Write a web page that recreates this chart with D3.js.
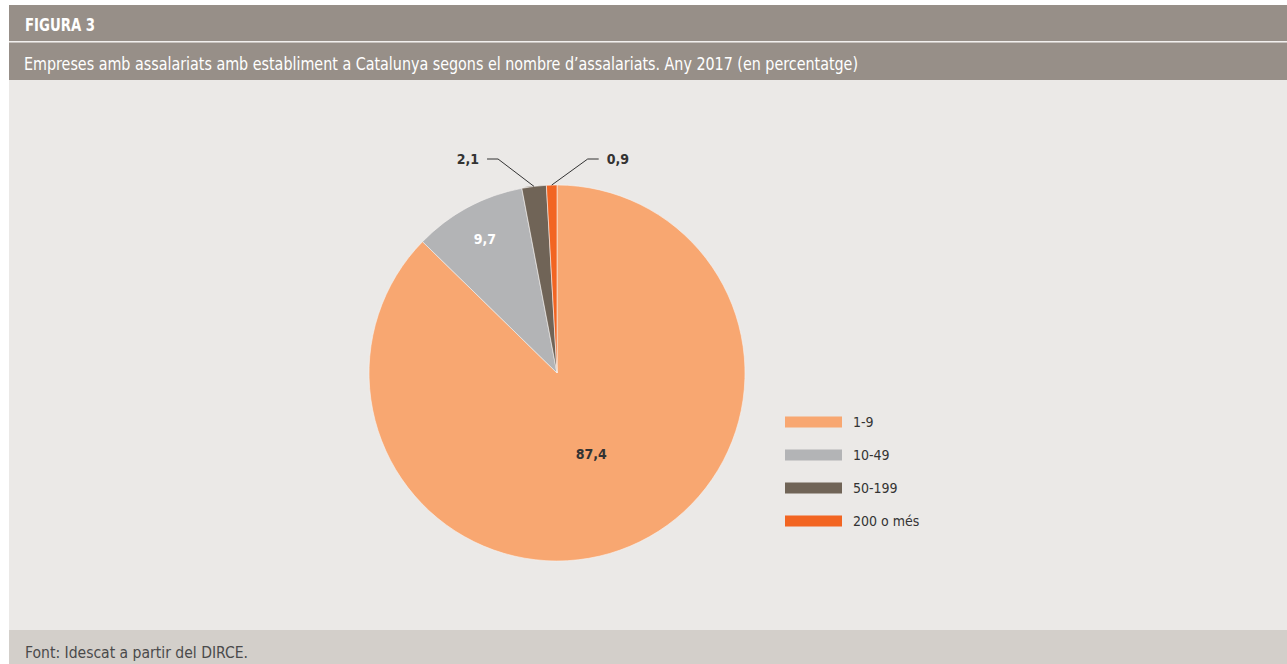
<!DOCTYPE html>
<html>
<head>
<meta charset="utf-8">
<script src="https://cdn.jsdelivr.net/npm/d3@7/dist/d3.min.js"></script>
<style>
  html, body { margin: 0; padding: 0; background: #ffffff; }
  svg { display: block; }
  text { font-family: "Liberation Sans Narrow", "DejaVu Sans Condensed", "Open Sans", sans-serif; }
</style>
</head>
<body>
<svg id="chart" width="1287" height="664"></svg>
<script>
// Business size bands (number of employees) and their share, Catalonia 2017
const categories = ["1-9", "10-49", "50-199", "200 o més"];
const shares = [87.4, 9.7, 2.1, 0.9];
const valueLabels = ["87,4", "9,7", "2,1", "0,9"];
const colors = ["#f8a771", "#b3b4b6", "#706457", "#f26522"];

const titleText = "FIGURA 3";
const subtitleText = "Empreses amb assalariats amb establiment a Catalunya segons el nombre d’assalariats. Any 2017 (en percentatge)";
const sourceText = "Font: Idescat a partir del DIRCE.";

const W = 1287, H = 664;
const svg = d3.select("#chart");

// Frame: header bands, plot body and source footer
const left = 9;
svg.append("rect").attr("x", left).attr("y", 5).attr("width", W - left).attr("height", 36).attr("fill", "#978f88");
svg.append("rect").attr("x", left).attr("y", 41).attr("width", W - left).attr("height", 1.5).attr("fill", "#f2f0ee");
svg.append("rect").attr("x", left).attr("y", 42.5).attr("width", W - left).attr("height", 37.5).attr("fill", "#978f88");
svg.append("rect").attr("x", left).attr("y", 80).attr("width", W - left).attr("height", 550).attr("fill", "#ebe9e7");
svg.append("rect").attr("x", left).attr("y", 630).attr("width", W - left).attr("height", 34).attr("fill", "#d3cfca");

svg.append("text").attr("x", 25).attr("y", 31)
  .attr("font-size", 18).attr("font-weight", "bold").attr("fill", "#ffffff")
  .attr("textLength", 70).attr("lengthAdjust", "spacingAndGlyphs")
  .text(titleText);
svg.append("text").attr("x", 24).attr("y", 70)
  .attr("font-size", 18).attr("fill", "#ffffff")
  .attr("textLength", 834).attr("lengthAdjust", "spacingAndGlyphs")
  .text(subtitleText);
svg.append("text").attr("x", 25).attr("y", 658)
  .attr("font-size", 16).attr("fill", "#4a4a4a")
  .attr("textLength", 223).attr("lengthAdjust", "spacingAndGlyphs")
  .text(sourceText);

// Pie
const cx = 557, cy = 373, r = 188;
const data = categories.map((c, i) => ({ cat: c, value: shares[i], label: valueLabels[i], color: colors[i] }));
const total = d3.sum(shares);

const pie = d3.pie().value(d => d.value).sort(null);
const arcs = pie(data);
const arc = d3.arc().innerRadius(0).outerRadius(r);

const g = svg.append("g").attr("transform", `translate(${cx},${cy})`);
g.selectAll("path.slice").data(arcs).join("path")
  .attr("class", "slice")
  .attr("d", arc)
  .attr("fill", d => d.data.color)
  .attr("stroke", "#f6f4f2")
  .attr("stroke-width", 0.6);

// Labels inside large slices, leader lines for thin ones
const bigLabelArc = d3.arc().innerRadius(r * 0.94).outerRadius(r * 0.94);
arcs.forEach(d => {
  const share = d.data.value / total;
  if (share >= 0.05) {
    const k = share > 0.5 ? 0.47 : 0.81;
    const a = (d.startAngle + d.endAngle) / 2;
    const x = Math.sin(a) * r * k, y = -Math.cos(a) * r * k;
    g.append("text").attr("x", x).attr("y", y).attr("dy", "0.36em")
      .attr("text-anchor", "middle").attr("font-size", 14).attr("font-weight", "bold")
      .attr("fill", share > 0.5 ? "#333333" : "#ffffff")
      .text(d.data.label);
  } else {
    const a = (d.startAngle + d.endAngle) / 2;
    const px = Math.sin(a) * r, py = -Math.cos(a) * r;
    const side = share > 0.015 ? -1 : 1;
    const ey = -r - 26;
    const ex = px + side * 36;
    const hx = ex + side * 11;
    g.append("polyline")
      .attr("points", [[px, py], [ex, ey], [hx, ey]].map(p => p.join(",")).join(" "))
      .attr("fill", "none").attr("stroke", "#333333").attr("stroke-width", 1);
    g.append("text").attr("x", hx + side * 8).attr("y", ey).attr("dy", "0.36em")
      .attr("text-anchor", side < 0 ? "end" : "start")
      .attr("font-size", 14).attr("font-weight", "bold").attr("fill", "#333333")
      .text(d.data.label);
  }
});

// Legend
const legendY = d3.scalePoint().domain(categories).range([422, 521]);
const legend = svg.append("g");
categories.forEach((c, i) => {
  legend.append("rect").attr("x", 785).attr("y", legendY(c) - 5.5)
    .attr("width", 57).attr("height", 11).attr("fill", colors[i]);
  legend.append("text").attr("x", 853).attr("y", legendY(c)).attr("dy", "0.36em")
    .attr("font-size", 14).attr("fill", "#333333").text(c);
});
</script>
</body>
</html>
